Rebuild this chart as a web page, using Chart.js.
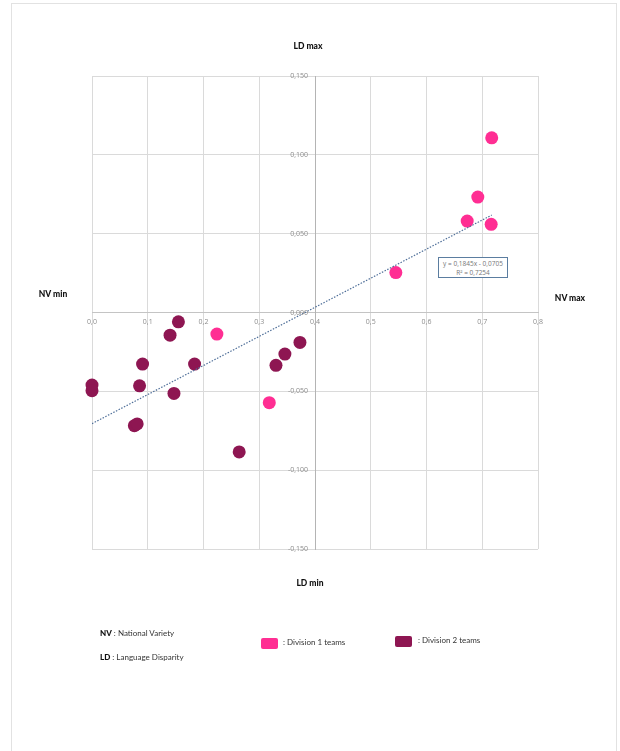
<!DOCTYPE html>
<html><head><meta charset="utf-8">
<script src="https://cdn.jsdelivr.net/npm/chart.js@4"></script>
<style>
html,body{margin:0;padding:0;background:#fff;}
#wrap{position:relative;width:620px;height:751px;overflow:hidden;font-family:Lato,"Open Sans",sans-serif;}
#frame{position:absolute;left:11px;top:3px;width:606px;height:800px;border:1px solid #e2e2e2;box-sizing:border-box;}
#c{position:absolute;left:0;top:0;}
.t{position:absolute;font-weight:900;font-size:8.5px;color:#111;white-space:nowrap;transform:translate(-50%,-50%);}
.lg{position:absolute;font-size:8px;color:#333;white-space:nowrap;}
.lg b{color:#111;font-weight:900;}
.sw{position:absolute;width:17px;height:11px;border-radius:2px;}
#eq{position:absolute;left:438px;top:257px;width:70px;height:21px;border:1px solid #5b7da0;box-sizing:border-box;background:#fff;
 font-family:"Open Sans",sans-serif;font-size:6.5px;color:#777;text-align:center;line-height:9px;padding-top:1px;}
</style></head>
<body>
<div id="wrap">
<div id="frame"></div>
<canvas id="c" width="620" height="751"></canvas>
<div class="t" style="left:308px;top:46px">LD max</div>
<div class="t" style="left:310px;top:583px">LD min</div>
<div class="t" style="left:53px;top:294px">NV min</div>
<div class="t" style="left:570px;top:298px">NV max</div>
<div id="eq">y = 0,1845x - 0,0705<br>R² = 0,7254</div>
<div class="lg" style="left:100px;top:628px"><b>NV</b> : National Variety</div>
<div class="lg" style="left:100px;top:652px"><b>LD</b> : Language Disparity</div>
<div class="sw" style="left:261px;top:638px;background:#ff2e93"></div>
<div class="lg" style="left:283px;top:637px">: Division 1 teams</div>
<div class="sw" style="left:395px;top:636px;background:#8e1652"></div>
<div class="lg" style="left:418px;top:635px">: Division 2 teams</div>
</div>
<script>
// Division 1 teams
const div1X = [0.224, 0.318, 0.717, 0.692, 0.673, 0.716, 0.545];
const div1Y = [-0.0137, -0.0572, 0.1108, 0.0732, 0.0580, 0.0559, 0.0253];
// Division 2 teams
const div2X = [0.155, 0.140, 0.0907, 0.184, 0.0, 0.0, 0.0853, 0.147, 0.076, 0.081, 0.264, 0.373, 0.346, 0.330];
const div2Y = [-0.0059, -0.0144, -0.0327, -0.0327, -0.0460, -0.0496, -0.0465, -0.0513, -0.0718, -0.0707, -0.0884, -0.0190, -0.0264, -0.0335];
// Trendline (from the displayed equation)
const trendSlope = 0.1845;
const trendIntercept = -0.0705;
// Tick values and labels
const xTickVals = [0, 0.1, 0.2, 0.3, 0.4, 0.5, 0.6, 0.7, 0.8];
const xTickLabels = ['0,0','0,1','0,2','0,3','0,4','0,5','0,6','0,7','0,8'];
const yTickVals = [-0.15, -0.1, -0.05, 0, 0.05, 0.1, 0.15];
const yTickLabels = ['-0,150','-0,100','-0,050','0,000','0,050','0,100','0,150'];

const pts = (xs, ys) => xs.map((x, i) => ({x: x, y: ys[i]}));
const allX = div1X.concat(div2X);
const tx0 = Math.min(...allX), tx1 = Math.max(...allX);
const trend = [{x: tx0, y: trendSlope*tx0 + trendIntercept}, {x: tx1, y: trendSlope*tx1 + trendIntercept}];

// y tick labels: right-aligned just left of the centred vertical axis
const yLabelPlugin = {
  id: 'yLabels',
  afterDatasetsDraw(chart) {
    const ctx = chart.ctx, xs = chart.scales.x, ys = chart.scales.y;
    const ax = xs.getPixelForValue(0.4);
    ctx.save();
    ctx.font = '7px "Open Sans"';
    ctx.fillStyle = '#8c8c8c';
    ctx.textAlign = 'right';
    ctx.textBaseline = 'middle';
    ys.ticks.forEach((t, i) => {
      ctx.fillText(yTickLabels[i], ax - 7, ys.getPixelForValue(t.value));
    });
    ctx.restore();
  }
};

new Chart(document.getElementById('c'), {
  type: 'scatter',
  data: {
    datasets: [
      {type:'line', data: trend, borderColor:'#4f6f99', borderWidth:1.2, borderDash:[1.5,1.5], pointRadius:0, fill:false},
      {data: pts(div1X, div1Y), backgroundColor:'#ff2e93', borderColor:'#ff2e93', pointRadius:6.5, borderWidth:0, clip:false},
      {data: pts(div2X, div2Y), backgroundColor:'#8e1652', borderColor:'#8e1652', pointRadius:6.5, borderWidth:0, clip:false}
    ]
  },
  options: {
    responsive:false, animation:false,
    layout:{padding:{left:92, right:82, top:76, bottom:202}},
    plugins:{legend:{display:false}, tooltip:{enabled:false}},
    scales:{
      x:{type:'linear', min:0, max:0.8, position:{y:0},
        afterBuildTicks: s => { s.ticks = xTickVals.map(v => ({value:v})); },
        ticks:{callback:(v,i)=>xTickLabels[i], color:'#8c8c8c', font:{family:'Open Sans', size:7}, padding:5, maxRotation:0, autoSkip:false},
        grid:{color:'#dadada', lineWidth:1, drawTicks:false},
        border:{display:true, color:'#c4c4c4', width:1}
      },
      y:{type:'linear', min:-0.15, max:0.15, position:{x:0.4},
        afterBuildTicks: s => { s.ticks = yTickVals.map(v => ({value:v})); },
        ticks:{display:false},
        grid:{color:'#dadada', lineWidth:1, drawTicks:false},
        border:{display:true, color:'#b4b4b4', width:1}
      }
    }
  },
  plugins:[yLabelPlugin]
});
</script>
</body></html>
